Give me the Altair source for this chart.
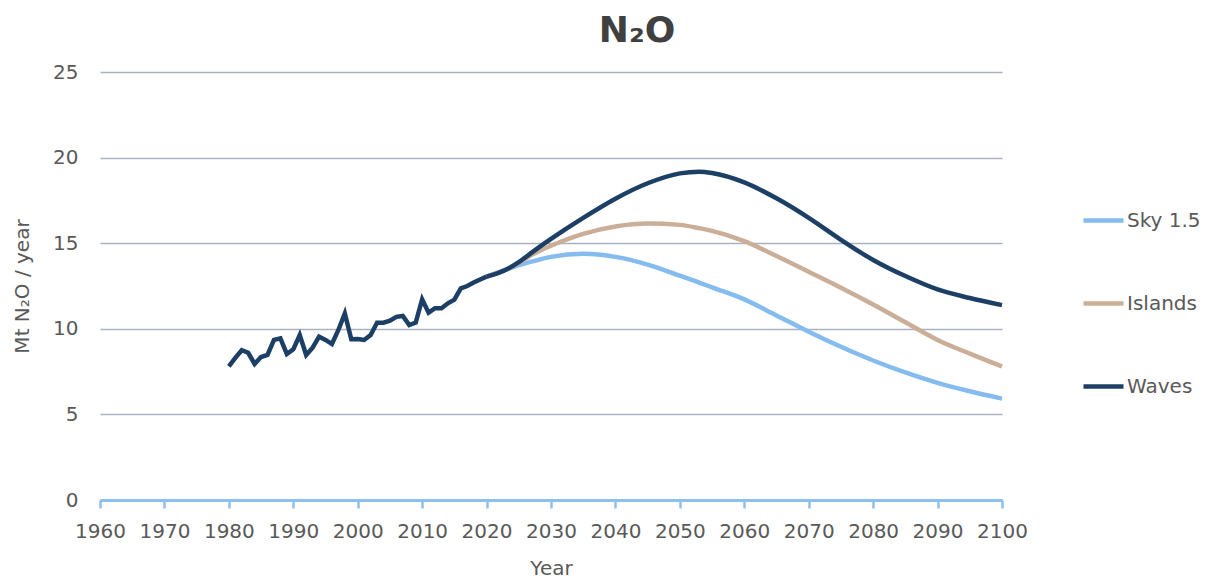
import altair as alt
import pandas as pd

# Historical emissions (Mt N2O / year)
hist_years = list(range(1980, 2021))
hist_values = [7.8, 8.3, 8.75, 8.6, 7.95, 8.35, 8.47, 9.35, 9.44, 8.53,
               8.8, 9.64, 8.47, 8.9, 9.54, 9.35, 9.11, 9.93, 10.9, 9.39,
               9.4, 9.35, 9.64, 10.36, 10.36, 10.47, 10.7, 10.75, 10.22, 10.36,
               11.72, 10.94, 11.2, 11.2, 11.49, 11.7, 12.36, 12.5, 12.7, 12.88,
               13.05]

# Scenario projections
proj_years = [2020, 2023, 2025, 2027, 2030, 2035, 2040, 2045, 2050, 2053,
              2055, 2060, 2065, 2070, 2075, 2080, 2085, 2090, 2095, 2100]
sky = [13.05, 13.45, 13.72, 13.92, 14.2, 14.38, 14.2, 13.75, 13.1, 12.7,
       12.42, 11.72, 10.78, 9.83, 8.95, 8.15, 7.45, 6.84, 6.35, 5.92]
islands = [13.05, 13.45, 13.85, 14.32, 14.85, 15.55, 15.98, 16.15, 16.07, 15.88,
           15.72, 15.12, 14.25, 13.33, 12.4, 11.42, 10.38, 9.35, 8.55, 7.8]
waves = [13.05, 13.45, 13.9, 14.45, 15.25, 16.48, 17.6, 18.5, 19.08, 19.18,
         19.1, 18.55, 17.62, 16.48, 15.2, 14.02, 13.08, 12.3, 11.8, 11.38]

series_names = ["Sky 1.5", "Islands", "Waves"]
series_colors = ["#85BCEF", "#CBAE98", "#1C3F66"]

rows = []
for name, vals in zip(series_names, [sky, islands, waves]):
    for y, v in zip(proj_years, vals):
        rows.append({"Year": y, "Value": v, "Scenario": name})
proj_df = pd.DataFrame(rows)
hist_df = pd.DataFrame({"Year": hist_years, "Value": hist_values})

FONT = "DejaVu Sans"
TXT = "#595959"

x_enc = alt.X("Year:Q",
              scale=alt.Scale(domain=[1960, 2100], nice=False),
              axis=alt.Axis(values=list(range(1960, 2101, 10)), format="d",
                            title="Year", grid=False,
                            labelOverlap=False, labelFlush=False,
                            domainColor="#8EC0EE", domainWidth=3,
                            tickColor="#8EC0EE", tickWidth=2.5, tickSize=8,
                            labelPadding=13, titlePadding=17))
y_enc = alt.Y("Value:Q",
              scale=alt.Scale(domain=[0, 25], nice=False),
              axis=alt.Axis(values=[0, 5, 10, 15, 20, 25], title="Mt N₂O / year",
                            domain=False, ticks=False, labelPadding=22,
                            labelOverlap=False, labelFlush=False,
                            titlePadding=20, gridColor="#A7B3C3", gridWidth=1.5))

proj = alt.Chart(proj_df).mark_line(strokeWidth=4.5, interpolate="monotone").encode(
    x=x_enc,
    y=y_enc,
    color=alt.Color("Scenario:N",
                    scale=alt.Scale(domain=series_names, range=series_colors),
                    sort=series_names,
                    legend=alt.Legend(title=None, orient="none", legendX=981, legendY=126,
                                      symbolType="stroke", symbolSize=1600,
                                      symbolStrokeWidth=4.5, rowPadding=50,
                                      labelFontSize=20, labelColor=TXT, labelFont=FONT,
                                      labelOffset=1, padding=0)),
)

hist = alt.Chart(hist_df).mark_line(strokeWidth=4.5, color="#1C3F66").encode(
    x="Year:Q", y="Value:Q"
)

chart = alt.layer(proj, hist).properties(
    width=902, height=428,
    title=alt.TitleParams("N₂O", fontSize=36, font=FONT, fontWeight="bold",
                          color="#404040", anchor="middle", dx=86, offset=12),
    autosize=alt.AutoSizeParams(type="none"),
    padding={"left": 92, "top": 64, "right": 200, "bottom": 78},
).configure_axis(
    labelFont=FONT, labelFontSize=20, labelColor=TXT,
    titleFont=FONT, titleFontSize=20, titleColor=TXT, titleFontWeight="normal",
).configure_view(stroke=None)

chart.save("out.html", embed_options={"renderer": "svg", "actions": False})
